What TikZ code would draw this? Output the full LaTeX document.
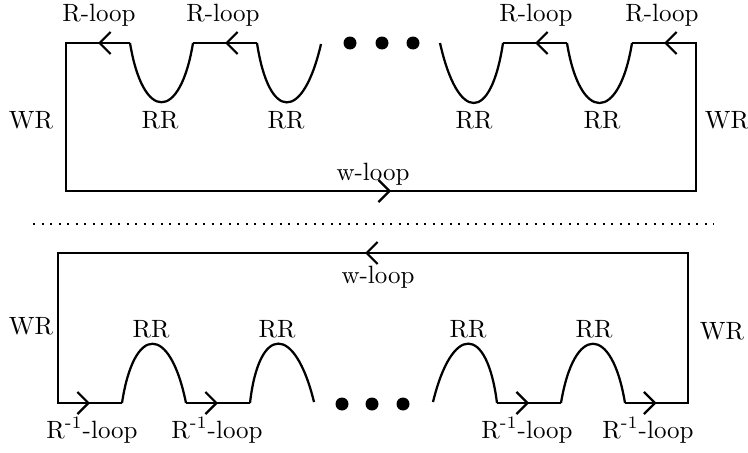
\documentclass[tikz,border=0pt]{standalone}
\usetikzlibrary{arrows.meta,decorations.markings}
\tikzset{
  wire/.style={line width=0.9pt, line join=miter},
  chev/.style={decoration={markings, mark=at position #1 with {\arrow{Straight Barb[length=4.4pt,width=8.8pt]}}}, postaction={decorate}},
  chev/.default=0.5,
  lbl/.style={anchor=base, inner sep=0pt, font=\fontsize{10}{12}\selectfont},
  blob/.style={circle, fill=black, minimum size=5.2pt, inner sep=0pt},
  sep/.style={line width=0.9pt, dash pattern=on 0.9pt off 2.5pt}
}
\begin{document}
\begin{tikzpicture}[x=0.4pt, y=-0.4pt]
\useasboundingbox (0,0) rectangle (748,453);

% ---------- top panel ----------
\coordinate (tL) at (66,43);
\coordinate (tLB) at (66,191);
\coordinate (tRB) at (696,191);
\coordinate (tR) at (696,43);
\coordinate (u1a) at (130,43); \coordinate (u1b) at (193,43);
\coordinate (u2a) at (257,43); \coordinate (u2b) at (321,44);
\coordinate (u3a) at (440,43); \coordinate (u3b) at (503,43);
\coordinate (u4a) at (567,43); \coordinate (u4b) at (632,43);

\draw[wire] (u1a) -- (tL) -- (tLB) -- (tRB) -- (tR) -- (u4b);
\draw[wire, chev] (u1a) -- (tL);
\draw[wire, chev=0.516] (tLB) -- (tRB);
\draw[wire, chev] (tR) -- (u4b);
\draw[wire] (u1a) .. controls (143,122) and (180,122) .. (u1b);
\draw[wire, chev] (u2a) -- (u1b);
\draw[wire] (u2a) .. controls (269,122) and (303,122) .. (u2b);
\draw[wire] (u3a) .. controls (458,123) and (491,123) .. (u3b);
\draw[wire, chev] (u4a) -- (u3b);
\draw[wire] (u4a) .. controls (580,123) and (619,123) .. (u4b);

\node[blob] (td1) at (350,43) {};
\node[blob] (td2) at (382,43) {};
\node[blob] (td3) at (413,43) {};

\node[lbl] (trl1) at (99,22) {R-loop};
\node[lbl] (trl2) at (223,22) {R-loop};
\node[lbl] (trl3) at (536,22) {R-loop};
\node[lbl] (trl4) at (662,22) {R-loop};
\node[lbl] (trr1) at (160,128) {RR};
\node[lbl] (trr2) at (286,128) {RR};
\node[lbl] (trr3) at (474,128) {RR};
\node[lbl] (trr4) at (602,128) {RR};
\node[lbl] (twrl) at (31,128) {WR};
\node[lbl] (twrr) at (727,128) {WR};
\node[lbl] (twl) at (373,180) {w-loop};

% ---------- separator ----------
\coordinate (s1) at (33,224);
\coordinate (s2) at (714,224);
\draw[sep] (s1) -- (s2);

% ---------- bottom panel ----------
\coordinate (bL) at (58,403);
\coordinate (bLT) at (58,253);
\coordinate (bRT) at (688,253);
\coordinate (bR) at (688,403);
\coordinate (h1a) at (122,403); \coordinate (h1b) at (186,403);
\coordinate (h2a) at (250,403); \coordinate (h2b) at (314,402);
\coordinate (h3a) at (433,402); \coordinate (h3b) at (497,403);
\coordinate (h4a) at (561,403); \coordinate (h4b) at (625,403);

\draw[wire] (h1a) -- (bL) -- (bLT) -- (bRT) -- (bR) -- (h4b);
\draw[wire, chev] (bL) -- (h1a);
\draw[wire, chev=0.5127] (bRT) -- (bLT);
\draw[wire, chev] (h4b) -- (bR);
\draw[wire] (h1a) .. controls (134,324) and (170,324) .. (h1b);
\draw[wire, chev] (h1b) -- (h2a);
\draw[wire] (h2a) .. controls (259,324) and (295,324) .. (h2b);
\draw[wire] (h3a) .. controls (452,324) and (487,324) .. (h3b);
\draw[wire, chev] (h3b) -- (h4a);
\draw[wire] (h4a) .. controls (574,324) and (612,324) .. (h4b);

\node[blob] (bd1) at (342,404) {};
\node[blob] (bd2) at (372,404) {};
\node[blob] (bd3) at (403,404) {};

\node[lbl] (bwl) at (378,283) {w-loop};
\node[lbl] (bwrl) at (31,334) {WR};
\node[lbl] (bwrr) at (722,339) {WR};
\node[lbl] (brr1) at (151,337) {RR};
\node[lbl] (brr2) at (277,337) {RR};
\node[lbl] (brr3) at (468,337) {RR};
\node[lbl] (brr4) at (594,337) {RR};
\node[lbl] (bil1) at (92,438) {R\textsuperscript{-1}-loop};
\node[lbl] (bil2) at (217,438) {R\textsuperscript{-1}-loop};
\node[lbl] (bil3) at (527,438) {R\textsuperscript{-1}-loop};
\node[lbl] (bil4) at (648,438) {R\textsuperscript{-1}-loop};
\end{tikzpicture}
\end{document}
